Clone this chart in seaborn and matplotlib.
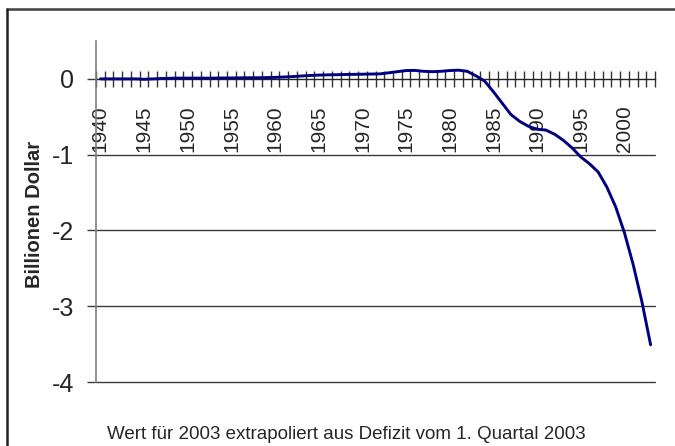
import matplotlib
matplotlib.use("Agg")
import matplotlib.pyplot as plt
import matplotlib.lines as mlines
import numpy as np
import pandas as pd
import seaborn as sns

years = list(range(1940, 2004))
values = [
    0.000, 0.000, 0.000, 0.000, 0.000, -0.005, 0.000, 0.005, 0.008, 0.010,   # 1940-1949
    0.010, 0.010, 0.010, 0.010, 0.012, 0.012, 0.014, 0.015, 0.015, 0.017,   # 1950-1959
    0.020, 0.025, 0.030, 0.038, 0.045, 0.050, 0.053, 0.055, 0.058, 0.060,   # 1960-1969
    0.062, 0.064, 0.066, 0.080, 0.095, 0.110, 0.112, 0.100, 0.095, 0.100,   # 1970-1979
    0.110, 0.115, 0.100, 0.040, -0.030, -0.170, -0.320, -0.470, -0.560, -0.625,  # 1980-1989
    -0.665, -0.675, -0.730, -0.810, -0.910, -1.030, -1.120, -1.230, -1.430, -1.690,  # 1990-1999
    -2.030, -2.450, -2.940, -3.510,                                           # 2000-2003
]
label_years = list(range(1940, 2001, 5))
y_ticks = [0, -1, -2, -3, -4]
y_label = "Billionen Dollar"
footnote = "Wert für 2003 extrapoliert aus Defizit vom 1. Quartal 2003"

df = pd.DataFrame({"Jahr": years, "Wert": values})

sns.set_style("white")
plt.rcParams["font.family"] = ["Liberation Sans", "DejaVu Sans"]
plt.rcParams["axes.unicode_minus"] = False

W, H = 675, 446
fig = plt.figure(figsize=(W / 100, H / 100), dpi=100)
ax = fig.add_axes([96 / W, 1 - 382 / H, (655 - 96) / W, (382 - 41) / H])

# horizontal gridlines
for v in y_ticks[1:]:
    ax.axhline(v, color="#3a3a3a", linewidth=1.0, zorder=1, clip_on=False)

sns.lineplot(data=df, x="Jahr", y="Wert", ax=ax, color="#000080",
             linewidth=2.1, zorder=3, legend=False)

ax.set_xlim(1939.5, 2003.5)
ax.set_ylim(-4, 0.5)

for s in ["top", "right"]:
    ax.spines[s].set_visible(False)
ax.spines["left"].set_color("#808080")
ax.spines["left"].set_linewidth(1.2)
ax.spines["bottom"].set_position(("data", 0))
ax.spines["bottom"].set_color("#222222")
ax.spines["bottom"].set_linewidth(1.0)
ax.spines["bottom"].set_zorder(2)

ax.set_xticks(label_years)
ax.set_xticklabels([str(y) for y in label_years], rotation=90, fontsize=15)
ax.set_xticks(np.arange(1939.5, 2004.0, 1.0), minor=True)
ax.tick_params(axis="x", which="both", bottom=True)
ax.tick_params(axis="x", which="major", length=0, pad=19)
ax.tick_params(axis="x", which="minor", direction="inout", length=11,
               width=1.0, color="#333333")
for lbl in ax.get_xticklabels():
    lbl.set_va("top")

ax.set_yticks(y_ticks)
ax.set_yticklabels([str(v) for v in y_ticks], fontsize=18)
ax.tick_params(axis="y", which="major", left=True, direction="out", length=6.5,
               width=1.0, color="#3a3a3a", pad=9)

ax.set_xlabel("")
ax.set_ylabel(y_label, fontsize=14.5, fontweight="bold")
ax.yaxis.label.set_va("center")
ax.yaxis.set_label_coords((35 - 96) / 559, (382 - 214) / 341)

fig.text(346 / W, 1 - 439 / H, footnote, ha="center", va="baseline", fontsize=13.5)

# outer frame
fig.add_artist(mlines.Line2D([7 / W, 1.0], [1 - 8.5 / H, 1 - 8.5 / H],
                             transform=fig.transFigure, color="#404040", linewidth=1.8))
fig.add_artist(mlines.Line2D([7 / W, 7 / W], [0.0, 1 - 8.5 / H],
                             transform=fig.transFigure, color="#202020", linewidth=1.8))

fig.savefig("out.png", dpi=100)
